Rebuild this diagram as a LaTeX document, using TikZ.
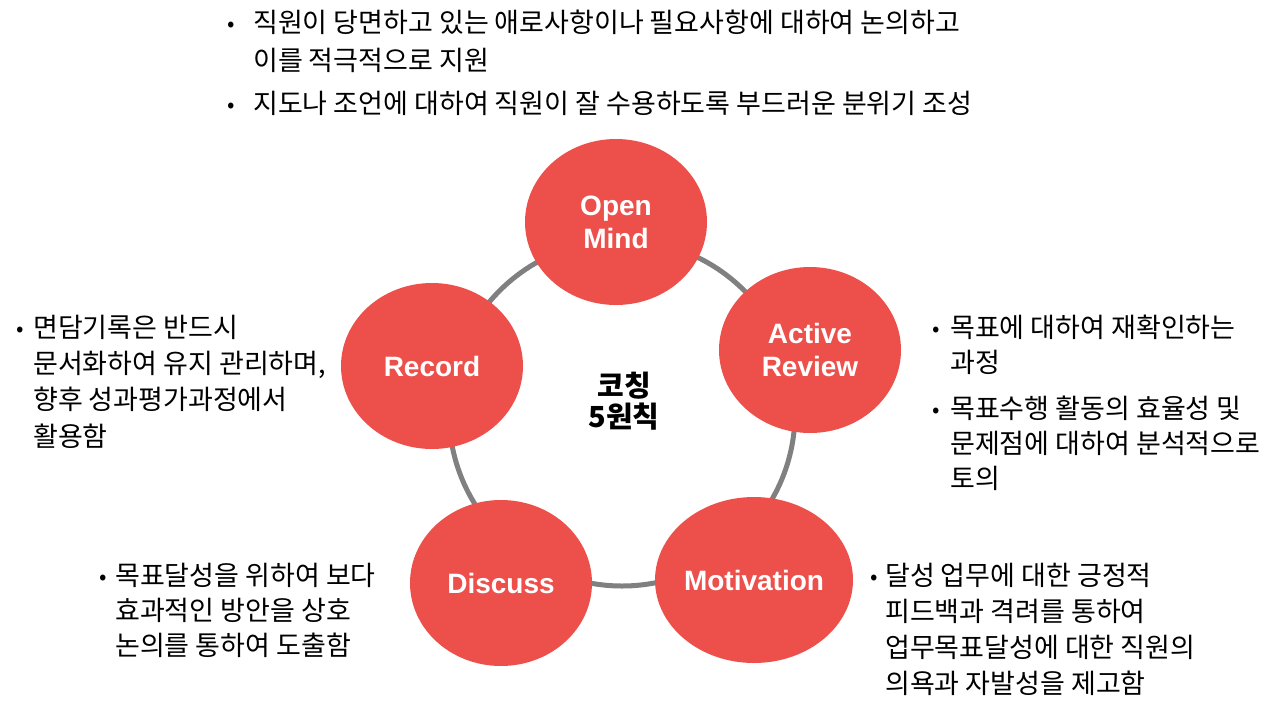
\documentclass[tikz,border=0pt]{standalone}
\usepackage{fontspec}
\setmainfont{Liberation Sans}
\newfontfamily\cjk{Noto Sans CJK KR}
\usetikzlibrary{shapes.geometric}
\definecolor{cred}{RGB}{237,80,75}
\definecolor{ringgray}{RGB}{128,128,128}
\newcommand\txtlines[1]{\begin{tabular}{@{}l@{}}#1\end{tabular}}
\begin{document}
\begin{tikzpicture}[x=1pt,y=-1pt,
  disc/.style={ellipse, fill=cred, minimum width=182pt, minimum height=166pt, inner sep=0pt,
    text=white, align=center, font=\bfseries\fontsize{28}{33}\selectfont},
  txt/.style={inner sep=0pt, anchor=north west, text=black},
  bul/.style={inner sep=0pt, anchor=base, text=black, font=\cjk\fontsize{22}{22}\selectfont},
  ringline/.style={draw=ringgray, line width=5pt}]
\useasboundingbox (0,0) rectangle (1283,713);
% ring
\coordinate (rc) at (622,413);
\draw[ringline] (rc) circle[radius=173];
% discs
\node[disc] (open) at (616,222) {Open\\Mind};
\node[disc] (active) at (810,350) {Active\\Review};
\node[disc] (motiv) at (754,580) {Motivation};
\node[disc] (disc) at (501,583) {Discuss};
\node[disc] (record) at (432,366) {Record};
% centre
\node[align=center, inner sep=0pt, font=\cjk\bfseries\fontsize{29}{31}\selectfont] (title) at (624,401) {코칭\\5원칙};
% top block
\node[bul] (b1) at (231,31) {•};
\node[bul] (b2) at (231,112) {•};
\node[txt, font=\cjk\fontsize{27}{38}\selectfont] (topt) at (253,5.5)
  {\txtlines{직원이 당면하고 있는 애로사항이나 필요사항에 대하여 논의하고\\
   이를 적극적으로 지원\\[5pt]
   지도나 조언에 대하여 직원이 잘 수용하도록 부드러운 분위기 조성}};
% record block
\node[bul] (b3) at (20,336) {•};
\node[txt, font=\cjk\fontsize{27}{36.3}\selectfont] (rect) at (33,311.7)
  {\txtlines{면담기록은 반드시\\
   문서화하여 유지 관리하며,\\
   향후 성과평가과정에서\\
   활용함}};
% active block
\node[bul] (b4) at (936,336) {•};
\node[bul] (b5) at (936,417) {•};
\node[txt, font=\cjk\fontsize{27}{35}\selectfont] (actt) at (950,312.6)
  {\txtlines{목표에 대하여 재확인하는\\
   과정\\[11pt]
   목표수행 활동의 효율성 및\\
   문제점에 대하여 분석적으로\\
   토의}};
% discuss block
\node[bul] (b6) at (103,584) {•};
\node[txt, font=\cjk\fontsize{27}{35}\selectfont] (dist) at (115,560.6)
  {\txtlines{목표달성을 위하여 보다\\
   효과적인 방안을 상호\\
   논의를 통하여 도출함}};
% motivation block
\node[bul] (b7) at (874,584) {•};
\node[txt, font=\cjk\fontsize{27}{36}\selectfont] (mott) at (885,559.9)
  {\txtlines{달성 업무에 대한 긍정적\\
   피드백과 격려를 통하여\\
   업무목표달성에 대한 직원의\\
   의욕과 자발성을 제고함}};
\end{tikzpicture}
\end{document}
